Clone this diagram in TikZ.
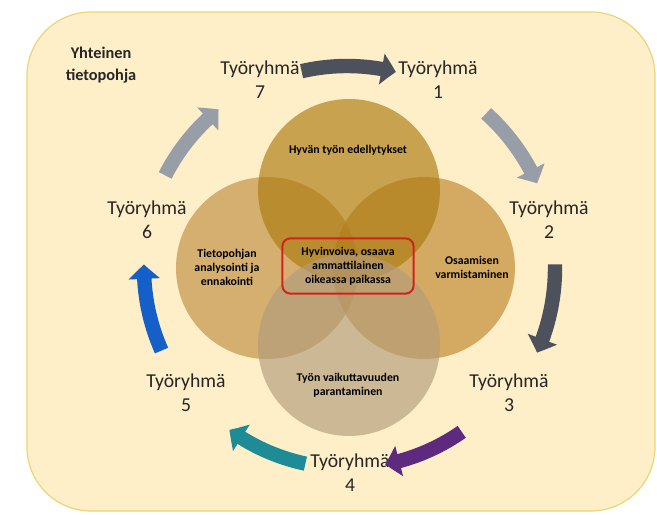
\documentclass[tikz,border=0pt]{standalone}
\usepackage{fontspec}
\setmainfont{Carlito}
\usetikzlibrary{arrows.meta,bending}

\definecolor{pohja}{RGB}{255,239,200}
\definecolor{reuna}{RGB}{232,214,120}
\definecolor{kultaylä}{RGB}{172,122,15}
\definecolor{kultavasen}{RGB}{189,141,65}
\definecolor{kultaoikea}{RGB}{189,133,43}
\definecolor{kultaala}{RGB}{179,156,123}
\definecolor{harmaatumma}{RGB}{76,81,92}
\definecolor{harmaavaalea}{RGB}{152,158,168}
\definecolor{violetti}{RGB}{94,42,128}
\definecolor{turkoosi}{RGB}{30,140,150}
\definecolor{sininen}{RGB}{20,95,200}
\definecolor{punainen}{RGB}{212,32,32}
\definecolor{teksti}{RGB}{38,38,38}

\tikzset{
  ympyra/.style={fill opacity=0.65},
  ryhma/.style={align=center, text=teksti, inner sep=0pt, font=\fontsize{14}{17}\selectfont},
  piiriteksti/.style={align=center, text=black, inner sep=0pt, font=\bfseries\fontsize{8.4}{10}\selectfont},
  nuoli/.style={line width=0.36cm, -{Triangle[bend, width=0.76cm, length=0.36cm]}},
}

\begin{document}
\begin{tikzpicture}[x=0.025cm,y=0.025cm]
                        \useasboundingbox (-347,-246) rectangle (310,268);%
                        {

                        % Drawing background box
                        \filldraw [fill=pohja, draw=reuna, line width=0.03cm, rounded corners=1.6cm] (-320,256) rectangle (308,-243);%
                        \node [font=\bfseries\fontsize{11.6}{15.5}\selectfont, align=center, text=teksti, inner sep=0pt] (tieto) at (-246,203) {Yhteinen\\tietopohja};%

                        % Drawing circles
                        \fill [ympyra, fill=kultavasen] (-80,0) circle [radius=91];%
                        \fill [ympyra, fill=kultaoikea] (77,0) circle [radius=91];%
                        \fill [ympyra, fill=kultaylä] (2,78) circle [radius=91];%
                        \fill [ympyra, fill=kultaala] (2,-77) circle [radius=91];%

                        % Texts in circles
                        \node [piiriteksti] (edell) at (1,118) {Hyvän työn edellytykset};%
                        \node [piiriteksti] (analyysi) at (-120,1) {Tietopohjan\\analysointi ja\\ennakointi};%
                        \node [piiriteksti] (osaam) at (125,1) {Osaamisen\\varmistaminen};%
                        \node [piiriteksti] (vaik) at (1,-117) {Työn vaikuttavuuden\\parantaminen};%

                        % Drawing centre box
                        \node [piiriteksti, draw=punainen, line width=0.05cm, rounded corners=0.2cm, minimum width=3.28cm, minimum height=1.38cm] (ydin) at (1,2) {Hyvinvoiva, osaava\\ammattilainen\\oikeassa paikassa};%

                        % Marking groups
                        \node [ryhma] (r1) at (91,188) {Työryhmä\\1};%
                        \node [ryhma] (r2) at (202,48) {Työryhmä\\2};%
                        \node [ryhma] (r3) at (162,-125) {Työryhmä\\3};%
                        \node [ryhma] (r4) at (3,-205) {Työryhmä\\4};%
                        \node [ryhma] (r5) at (-161,-125) {Työryhmä\\5};%
                        \node [ryhma] (r6) at (-200,48) {Työryhmä\\6};%
                        \node [ryhma] (r7) at (-87,188) {Työryhmä\\7};%

                        % Drawing arrows between groups
                        \coordinate (a71) at (103:202);%
                        \coordinate (a12) at (48:208);%
                        \coordinate (a23) at (1:208);%
                        \coordinate (a34) at (-55:200);%
                        \coordinate (a45) at (-102:200);%
                        \coordinate (a56) at (204:203);%
                        \coordinate (a67) at (153:204);%
                        \draw [nuoli, draw=harmaatumma] (a71) arc [start angle=103, end angle=76, radius=202];%
                        \draw [nuoli, draw=harmaavaalea] (a12) arc [start angle=48, end angle=24, radius=208];%
                        \draw [nuoli, draw=harmaatumma] (a23) arc [start angle=1, end angle=-24, radius=208];%
                        \draw [nuoli, draw=violetti] (a34) arc [start angle=-55, end angle=-79, radius=200];%
                        \draw [nuoli, draw=turkoosi] (a45) arc [start angle=-102, end angle=-126, radius=200];%
                        \draw [nuoli, draw=sininen] (a56) arc [start angle=204, end angle=179, radius=203];%
                        \draw [nuoli, draw=harmaavaalea] (a67) arc [start angle=153, end angle=129, radius=204];%
                        }
                    \end{tikzpicture}
\end{document}
